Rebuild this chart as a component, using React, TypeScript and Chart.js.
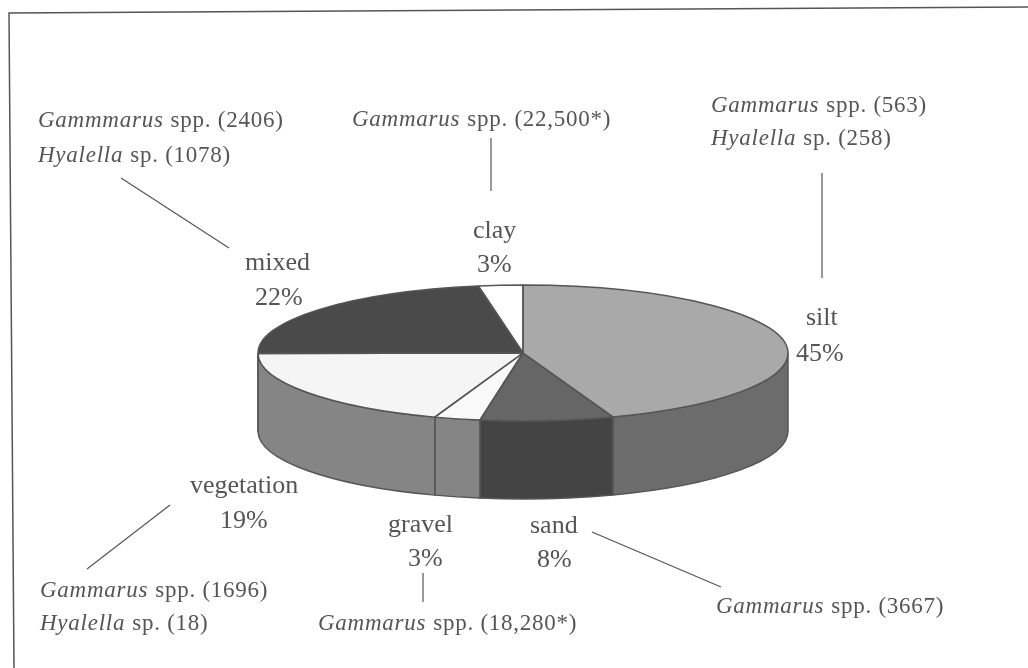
import React, { useEffect, useRef } from "react";
import { Chart, registerables } from "chart.js";

Chart.register(...registerables);

// ---- data ----
const CATEGORIES = ["silt", "sand", "gravel", "vegetation", "mixed", "clay"];
const SHARES = [44.5, 8.1, 2.8, 19.49, 22.41, 2.7];
const PERCENT_LABELS = ["45%", "8%", "3%", "19%", "22%", "3%"];
const GAMMARUS_COUNTS = ["(563)", "(3667)", "(18,280*)", "(1696)", "(2406)", "(22,500*)"];
const HYALELLA_COUNTS = ["(258)", "", "", "(18)", "(1078)", ""];
const GAMMARUS_NAMES = ["Gammarus", "Gammarus", "Gammarus", "Gammarus", "Gammmarus", "Gammarus"];

// ---- styling and layout ----
const TOP_COLORS = ["#a9a9a9", "#666666", "#f9f9f9", "#f5f5f5", "#4a4a4a", "#ffffff"];
const SIDE_COLORS = ["#6c6c6c", "#444444", "#858585", "#858585", "#4a4a4a", "#ffffff"];
const LINE_COLOR = "#555555";
const TEXT_COLOR = "#555555";
const SQUASH = 68 / 265;
const DEPTH = 78;
const SERIF = '"Liberation Serif", serif';

// [name x, name y, percent x, percent y]
const CATEGORY_POS = [
  [806, 325, 796, 361],
  [530, 533, 537, 567],
  [388, 532, 408, 566],
  [190, 493, 220, 528],
  [245, 270, 255, 305],
  [473, 238, 477, 272],
];
// [gammarus x, y, hyalella x, y]
const SPECIES_POS = [
  [711, 112, 711, 145],
  [716, 613, 0, 0],
  [318, 630, 0, 0],
  [40, 597, 40, 630],
  [38, 127, 38, 162],
  [352, 126, 0, 0],
];
// [x1, y1, x2, y2]
const LEADERS = [
  [822, 173, 822, 278],
  [592, 532, 721, 587],
  [423, 573, 423, 602],
  [170, 505, 87, 569],
  [121, 178, 229, 248],
  [491, 138, 491, 191],
];
const FRAME = [
  [1028, 7],
  [9, 13],
  [14, 668],
];

function drawSpecies(ctx: CanvasRenderingContext2D, genus: string, rest: string, x: number, y: number) {
  ctx.font = `italic 23px ${SERIF}`;
  (ctx as any).letterSpacing = "0.75px";
  ctx.fillText(genus, x, y);
  const w = ctx.measureText(genus).width;
  ctx.font = `23px ${SERIF}`;
  ctx.fillText(rest, x + w + 7, y);
  (ctx as any).letterSpacing = "0px";
}

const pie3d = {
  id: "pie3d",
  beforeDraw(chart: any) {
    const { ctx } = chart;
    ctx.save();
    ctx.strokeStyle = LINE_COLOR;
    ctx.lineWidth = 1.5;
    ctx.beginPath();
    FRAME.forEach(([x, y], i) => (i ? ctx.lineTo(x, y) : ctx.moveTo(x, y)));
    ctx.stroke();
    ctx.restore();
  },
  beforeDatasetsDraw(chart: any) {
    const { ctx } = chart;
    const arcs = chart.getDatasetMeta(0).data;
    const { x: cx, y: cy, outerRadius: r } = arcs[0];
    const ry = r * SQUASH;
    ctx.save();
    ctx.strokeStyle = LINE_COLOR;
    ctx.lineWidth = 1.5;
    arcs.forEach((el: any, i: number) => {
      const a0 = Math.max(el.startAngle, 0);
      const a1 = Math.min(el.endAngle, Math.PI);
      if (a1 <= a0) return;
      ctx.beginPath();
      ctx.ellipse(cx, cy, r, ry, 0, a0, a1);
      ctx.ellipse(cx, cy + DEPTH, r, ry, 0, a1, a0, true);
      ctx.closePath();
      ctx.fillStyle = SIDE_COLORS[i];
      ctx.fill();
      ctx.stroke();
    });
    ctx.restore();
    ctx.save();
    ctx.translate(cx, cy);
    ctx.scale(1, SQUASH);
    ctx.translate(-cx, -cy);
  },
  afterDatasetsDraw(chart: any) {
    const { ctx } = chart;
    ctx.restore();
    const arcs = chart.getDatasetMeta(0).data;
    const { x: cx, y: cy, outerRadius: r } = arcs[0];
    const ry = r * SQUASH;
    ctx.save();
    ctx.strokeStyle = LINE_COLOR;
    ctx.lineWidth = 1.5;
    ctx.lineJoin = "round";
    arcs.forEach((el: any) => {
      ctx.beginPath();
      ctx.moveTo(cx, cy);
      ctx.ellipse(cx, cy, r, ry, 0, el.startAngle, el.endAngle);
      ctx.closePath();
      ctx.stroke();
    });
    ctx.lineWidth = 1.2;
    LEADERS.forEach(([x1, y1, x2, y2]) => {
      ctx.beginPath();
      ctx.moveTo(x1, y1);
      ctx.lineTo(x2, y2);
      ctx.stroke();
    });
    ctx.fillStyle = TEXT_COLOR;
    ctx.textBaseline = "alphabetic";
    ctx.textAlign = "left";
    CATEGORIES.forEach((name, i) => {
      const [nx, ny, px, py] = CATEGORY_POS[i];
      ctx.font = `26px ${SERIF}`;
      ctx.fillText(name, nx, ny);
      ctx.fillText(PERCENT_LABELS[i], px, py);
      const [gx, gy, hx, hy] = SPECIES_POS[i];
      drawSpecies(ctx, GAMMARUS_NAMES[i], `spp. ${GAMMARUS_COUNTS[i]}`, gx, gy);
      if (HYALELLA_COUNTS[i]) drawSpecies(ctx, "Hyalella", `sp. ${HYALELLA_COUNTS[i]}`, hx, hy);
    });
    ctx.restore();
  },
};

export default function App() {
  const ref = useRef<HTMLCanvasElement | null>(null);
  useEffect(() => {
    const chart = new Chart(ref.current as HTMLCanvasElement, {
      type: "pie",
      data: {
        labels: CATEGORIES,
        datasets: [{ data: SHARES, backgroundColor: TOP_COLORS, borderWidth: 0 }],
      },
      options: {
        animation: false,
        responsive: false,
        maintainAspectRatio: false,
        radius: 265,
        layout: { padding: { left: 18, top: 38 } },
        plugins: { legend: { display: false }, tooltip: { enabled: false }, title: { display: false } },
      } as any,
      plugins: [pie3d],
    } as any);
    return () => chart.destroy();
  }, []);
  return (
    <canvas
      ref={ref}
      width={1028}
      height={668}
      style={{ position: "absolute", left: 0, top: 0, display: "block", background: "#ffffff", filter: "blur(0.5px)" }}
    />
  );
}
